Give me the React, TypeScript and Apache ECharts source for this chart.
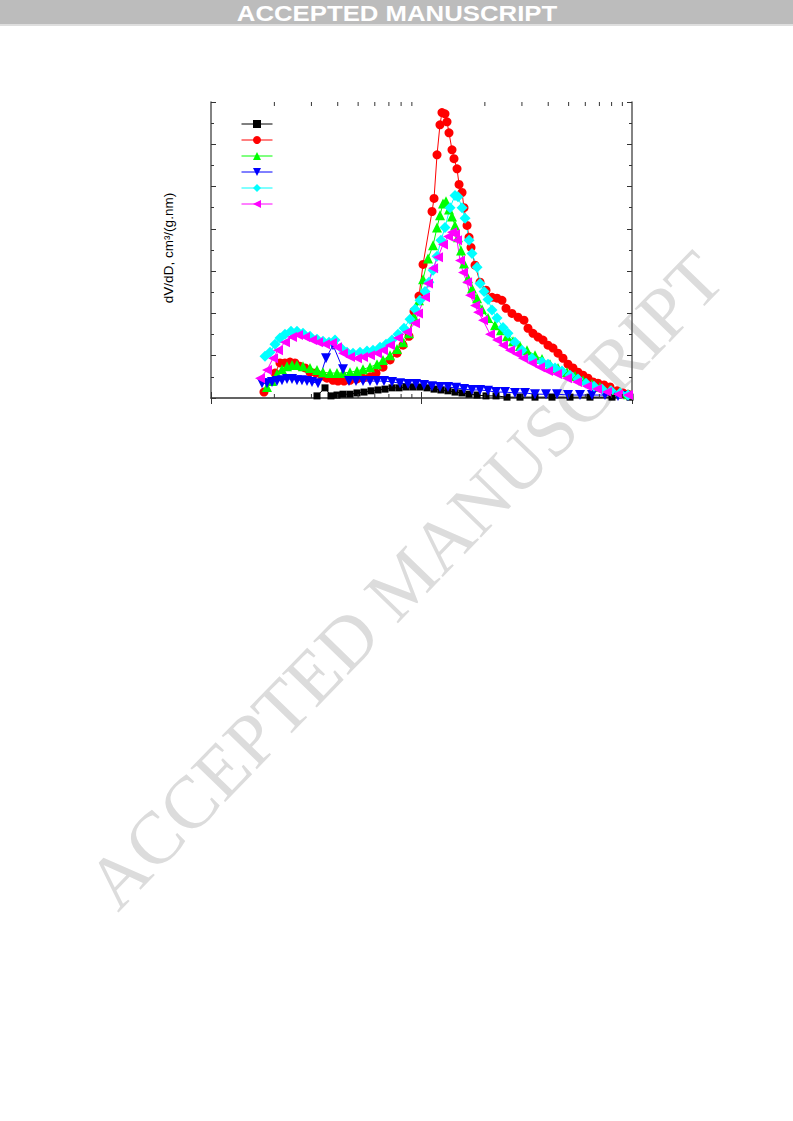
import React, { useEffect, useRef } from "react";
import * as echarts from "echarts";

// Pore diameter (nm, log axis) vs dV/dD (arbitrary units, 7 major divisions)
const seriesNames = ["S1", "S2", "S3", "S4", "S5", "S6"];

const black: [number, number][] = [
  [3.188, 0.05], [3.48, 0.24], [3.716, 0.05], [3.968, 0.07], [4.238, 0.09], [4.575, 0.09],
  [4.939, 0.12], [5.332, 0.14], [5.757, 0.17], [6.215, 0.19], [6.709, 0.21], [7.244, 0.24],
  [7.82, 0.24], [8.443, 0.26], [9.115, 0.26], [9.838, 0.26], [10.62, 0.24], [11.47, 0.21],
  [12.37, 0.19], [13.36, 0.17], [14.43, 0.14], [15.58, 0.12], [16.82, 0.09], [18.36, 0.07],
  [20.25, 0.05], [22.6, 0.05], [25.48, 0.02], [29.37, 0.02], [34.61, 0.02], [41.68, 0.02],
  [50.75, 0.02], [63.16, 0.02], [80.35, 0.02], [97.84, 0.02],
];

const red: [number, number][] = [
  [1.785, 0.14], [2.014, 0.59], [2.127, 0.83], [2.246, 0.83], [2.373, 0.85], [2.506, 0.83],
  [2.647, 0.75], [2.796, 0.71], [2.953, 0.61], [3.153, 0.59], [3.368, 0.52], [3.557, 0.47],
  [3.799, 0.42], [4.012, 0.4], [4.284, 0.4], [4.575, 0.42], [4.939, 0.45], [5.274, 0.47],
  [5.694, 0.5], [6.08, 0.59], [6.564, 0.73], [7.087, 0.9], [7.65, 1.06], [8.17, 1.25],
  [8.724, 1.46], [9.214, 2.05], [9.731, 2.41], [10.17, 3.16], [11.22, 4.41], [11.47, 4.72],
  [11.85, 5.75], [12.24, 6.46], [12.51, 6.75], [12.93, 6.72], [13.22, 6.53], [13.51, 6.27],
  [13.96, 5.87], [14.27, 5.66], [14.75, 5.42], [15.08, 5.05], [15.58, 4.86], [15.92, 4.5],
  [16.46, 4.08], [16.82, 3.8], [17.19, 3.56], [17.96, 3.14], [18.97, 2.74], [20.25, 2.55],
  [21.63, 2.38], [22.84, 2.36], [24.12, 2.31], [25.2, 2.12], [26.91, 2.0], [28.74, 1.91],
  [30.68, 1.84], [32.06, 1.65], [33.85, 1.53], [35.77, 1.44], [37.77, 1.37], [39.9, 1.25],
  [42.14, 1.18], [44.51, 1.06], [47.01, 0.94], [49.66, 0.8], [52.45, 0.71], [55.39, 0.61],
  [58.51, 0.54], [61.8, 0.47], [65.27, 0.38], [68.94, 0.35], [73.62, 0.31], [78.61, 0.26],
  [84.87, 0.17], [90.63, 0.12], [95.71, 0.09],
];

const green: [number, number][] = [
  [1.845, 0.26], [1.949, 0.4], [2.059, 0.57], [2.174, 0.68], [2.296, 0.75], [2.425, 0.78],
  [2.561, 0.78], [2.735, 0.75], [2.953, 0.71], [3.188, 0.66], [3.405, 0.61], [3.676, 0.59],
  [3.968, 0.59], [4.238, 0.59], [4.575, 0.61], [4.939, 0.64], [5.274, 0.68], [5.694, 0.73],
  [6.147, 0.8], [6.564, 0.9], [7.087, 1.01], [7.65, 1.16], [8.17, 1.32], [8.724, 1.53],
  [9.214, 1.93], [9.731, 2.31], [10.17, 2.81], [10.74, 3.3], [11.35, 3.61], [11.85, 4.03],
  [12.24, 4.32], [12.65, 4.6], [13.07, 4.65], [13.51, 4.46], [13.96, 4.29], [14.43, 4.08],
  [14.91, 3.8], [15.41, 3.49], [15.92, 3.18], [16.64, 2.83], [17.38, 2.59], [18.36, 2.36],
  [19.39, 2.1], [20.7, 1.89], [22.35, 1.72], [23.86, 1.6], [25.48, 1.46], [27.21, 1.34],
  [29.37, 1.23], [31.71, 1.13], [34.61, 1.01], [37.36, 0.92], [40.78, 0.8], [44.51, 0.71],
  [49.11, 0.61], [53.6, 0.52], [58.51, 0.42], [64.56, 0.33], [70.47, 0.26], [78.61, 0.19],
  [87.7, 0.14], [95.71, 0.09],
];

const blue: [number, number][] = [
  [1.747, 0.35], [1.845, 0.35], [1.949, 0.38], [2.059, 0.4], [2.174, 0.42], [2.296, 0.45],
  [2.425, 0.45], [2.561, 0.42], [2.705, 0.42], [2.858, 0.4], [3.018, 0.38], [3.223, 0.35],
  [3.518, 0.94], [3.799, 1.25], [4.238, 0.68], [4.525, 0.4], [4.885, 0.4], [5.274, 0.4],
  [5.694, 0.4], [6.147, 0.4], [6.636, 0.4], [7.244, 0.38], [7.906, 0.35], [8.63, 0.33],
  [9.417, 0.33], [10.28, 0.31], [11.22, 0.28], [12.24, 0.26], [13.36, 0.26], [14.59, 0.24],
  [15.92, 0.21], [17.38, 0.19], [18.97, 0.19], [20.7, 0.17], [22.6, 0.14], [24.93, 0.14],
  [27.81, 0.12], [31.02, 0.12], [34.61, 0.09], [39.04, 0.09], [44.02, 0.09], [49.66, 0.07],
  [56.62, 0.07], [64.56, 0.07], [74.42, 0.07], [85.8, 0.05], [95.71, 0.05],
];

const cyan: [number, number][] = [
  [1.805, 0.99], [1.907, 1.08], [2.014, 1.27], [2.127, 1.42], [2.246, 1.51], [2.399, 1.58],
  [2.561, 1.58], [2.735, 1.53], [2.953, 1.46], [3.188, 1.39], [3.405, 1.34], [3.636, 1.32],
  [3.882, 1.37], [4.146, 1.18], [4.427, 1.08], [4.728, 1.06], [5.104, 1.08], [5.51, 1.11],
  [5.884, 1.13], [6.352, 1.2], [6.783, 1.27], [7.244, 1.37], [7.735, 1.51], [8.259, 1.65],
  [8.82, 1.86], [9.315, 2.1], [9.838, 2.31], [10.39, 2.52], [10.85, 2.74], [11.35, 3.02],
  [11.85, 3.35], [12.37, 3.73], [12.93, 4.03], [13.66, 4.5], [14.43, 4.79], [14.91, 4.76],
  [15.58, 4.5], [16.1, 4.25], [16.82, 3.73], [17.38, 3.42], [18.36, 3.09], [18.97, 2.71],
  [19.82, 2.52], [20.7, 2.33], [21.63, 2.08], [22.84, 1.89], [24.39, 1.67], [25.76, 1.53],
  [27.81, 1.32], [30.02, 1.13], [33.48, 0.94], [37.36, 0.85], [39.9, 0.8], [43.07, 0.71],
  [46.5, 0.64], [50.75, 0.54], [55.39, 0.45], [60.46, 0.35], [65.98, 0.28], [72.03, 0.21],
  [79.47, 0.17], [87.7, 0.12], [95.71, 0.07],
];

const magenta: [number, number][] = [
  [1.709, 0.47], [1.845, 0.66], [1.971, 0.94], [2.081, 1.13], [2.246, 1.32], [2.425, 1.44],
  [2.59, 1.49], [2.796, 1.44], [3.018, 1.37], [3.223, 1.32], [3.48, 1.27], [3.757, 1.3],
  [3.968, 1.2], [4.238, 1.06], [4.575, 0.97], [4.939, 0.94], [5.274, 0.97], [5.694, 1.01],
  [6.147, 1.06], [6.564, 1.13], [7.087, 1.25], [7.735, 1.42], [8.536, 1.56], [9.315, 1.77],
  [9.626, 2.0], [10.39, 2.38], [10.74, 2.71], [11.35, 3.07], [11.98, 3.33], [12.65, 3.63],
  [13.36, 3.82], [13.96, 3.92], [14.43, 3.87], [14.75, 3.73], [15.24, 3.25], [15.75, 2.97],
  [16.46, 2.74], [17.0, 2.43], [17.96, 2.19], [18.56, 2.03], [19.6, 1.84], [21.16, 1.51],
  [22.84, 1.37], [24.39, 1.25], [26.33, 1.13], [28.43, 1.04], [30.35, 0.94], [33.48, 0.83],
  [36.55, 0.73], [39.9, 0.64], [44.02, 0.57], [49.11, 0.47], [54.79, 0.38], [61.12, 0.28],
  [68.18, 0.21], [76.07, 0.14], [85.8, 0.09], [95.71, 0.07],
];

const minorXTicks = [2, 3, 4, 5, 6, 7, 8, 9, 20, 30, 40, 50, 60, 70, 80, 90];

const X_MIN = 1;
const X_MAX = 100;
const Y_MIN = 0;
const Y_MAX = 7;

const AXIS_COLOR = "#5a5a5a";

export default function App() {
  const ref = useRef<HTMLDivElement>(null);

  useEffect(() => {
    if (!ref.current) return;
    const chart = echarts.init(ref.current, null, { renderer: "svg" });

    const mkLine = (
      name: string,
      data: [number, number][],
      color: string,
      symbol: string,
      symbolSize: number,
      symbolRotate = 0
    ) => ({
      name,
      type: "line",
      data,
      symbol,
      symbolSize,
      symbolRotate,
      showSymbol: true,
      lineStyle: { color, width: 1 },
      itemStyle: { color, borderWidth: 0 },
      emphasis: { disabled: true },
      z: 3,
    });

    const xAxisBase = {
      type: "log",
      logBase: 10,
      min: X_MIN,
      max: X_MAX,
      axisLine: { show: true, lineStyle: { color: AXIS_COLOR, width: 1.5 } },
      axisTick: { show: true, inside: true, length: 6, lineStyle: { color: "#333", width: 1 } },
      axisLabel: { show: false },
      splitLine: { show: false },
      minorTick: { show: false },
    };
    const yAxisBase = {
      type: "value",
      min: Y_MIN,
      max: Y_MAX,
      interval: 1,
      axisLine: { show: true, lineStyle: { color: AXIS_COLOR, width: 1.5 } },
      axisTick: { show: true, inside: true, length: 5, lineStyle: { color: "#333", width: 1 } },
      minorTick: { show: true, splitNumber: 2, length: 3, lineStyle: { color: "#333", width: 1 } },
      axisLabel: { show: false },
      splitLine: { show: false },
    };

    chart.setOption({
      animation: false,
      backgroundColor: "#ffffff",
      grid: { left: 211, top: 102, width: 421, height: 296, containLabel: false },
      xAxis: [
        { ...xAxisBase, position: "bottom" },
        { ...xAxisBase, position: "top" },
      ],
      yAxis: [
        { ...yAxisBase, position: "left" },
        { ...yAxisBase, position: "right" },
      ],
      legend: {
        data: seriesNames,
        orient: "vertical",
        left: 241,
        top: 119,
        padding: 0,
        itemWidth: 31,
        itemHeight: 10,
        itemGap: 7,
        formatter: () => "",
        textStyle: { fontSize: 10 },
        lineStyle: { width: 1 },
        selectedMode: false,
      },
      graphic: [
        {
          type: "rect",
          shape: { x: 0, y: 0, width: 793, height: 24 },
          style: { fill: "#bcbcbc" },
          z: 0,
        },
        {
          type: "rect",
          shape: { x: 0, y: 24, width: 793, height: 2 },
          style: { fill: "#dedede" },
          z: 0,
        },
        {
          type: "text",
          x: 397,
          y: 13,
          scaleX: 1.12,
          style: {
            text: "ACCEPTED MANUSCRIPT",
            fill: "#ffffff",
            font: 'bold 23px "Liberation Sans", Arial, sans-serif',
            textAlign: "center",
            textVerticalAlign: "middle",
          },
          z: 1,
        },
        {
          type: "text",
          x: 405,
          y: 580,
          rotation: (46 * Math.PI) / 180,
          style: {
            text: "ACCEPTED MANUSCRIPT",
            fill: "#dcdcdc",
            font: '74px "Liberation Serif", "Times New Roman", serif',
            textAlign: "center",
            textVerticalAlign: "middle",
          },
          z: 0,
        },
        {
          type: "text",
          x: 168,
          y: 248,
          rotation: Math.PI / 2,
          style: {
            text: "dV/dD, cm\u00B3/(g.nm)",
            fill: "#000000",
            font: '13.5px "Liberation Sans", Arial, sans-serif',
            textAlign: "center",
            textVerticalAlign: "middle",
          },
          z: 5,
        },
      ],
      series: [
        {
          name: "minorTicks",
          type: "custom",
          xAxisIndex: 0,
          yAxisIndex: 0,
          silent: true,
          z: 4,
          data: minorXTicks.map((v) => [v, 0]),
          encode: { x: 0, y: 1 },
          renderItem: (_params: any, api: any) => {
            const v = api.value(0);
            const b = api.coord([v, Y_MIN]);
            const t = api.coord([v, Y_MAX]);
            return {
              type: "group",
              children: [
                {
                  type: "line",
                  shape: { x1: b[0], y1: b[1], x2: b[0], y2: b[1] - 4 },
                  style: { stroke: "#333", lineWidth: 1 },
                },
                {
                  type: "line",
                  shape: { x1: t[0], y1: t[1], x2: t[0], y2: t[1] + 4 },
                  style: { stroke: "#333", lineWidth: 1 },
                },
              ],
            };
          },
        },
        mkLine(seriesNames[0], black, "#000000", "rect", 7),
        mkLine(seriesNames[1], red, "#ff0000", "circle", 9),
        mkLine(seriesNames[2], green, "#00ff00", "triangle", 10),
        mkLine(seriesNames[3], blue, "#0000ff", "triangle", 10, 180),
        mkLine(seriesNames[4], cyan, "#00ffff", "diamond", 11),
        mkLine(seriesNames[5], magenta, "#ff00ff", "triangle", 10, 90),
      ],
    });

    return () => chart.dispose();
  }, []);

  return (
    <div
      ref={ref}
      style={{ position: "absolute", left: 0, top: 0, width: 793, height: 1121 }}
    />
  );
}
